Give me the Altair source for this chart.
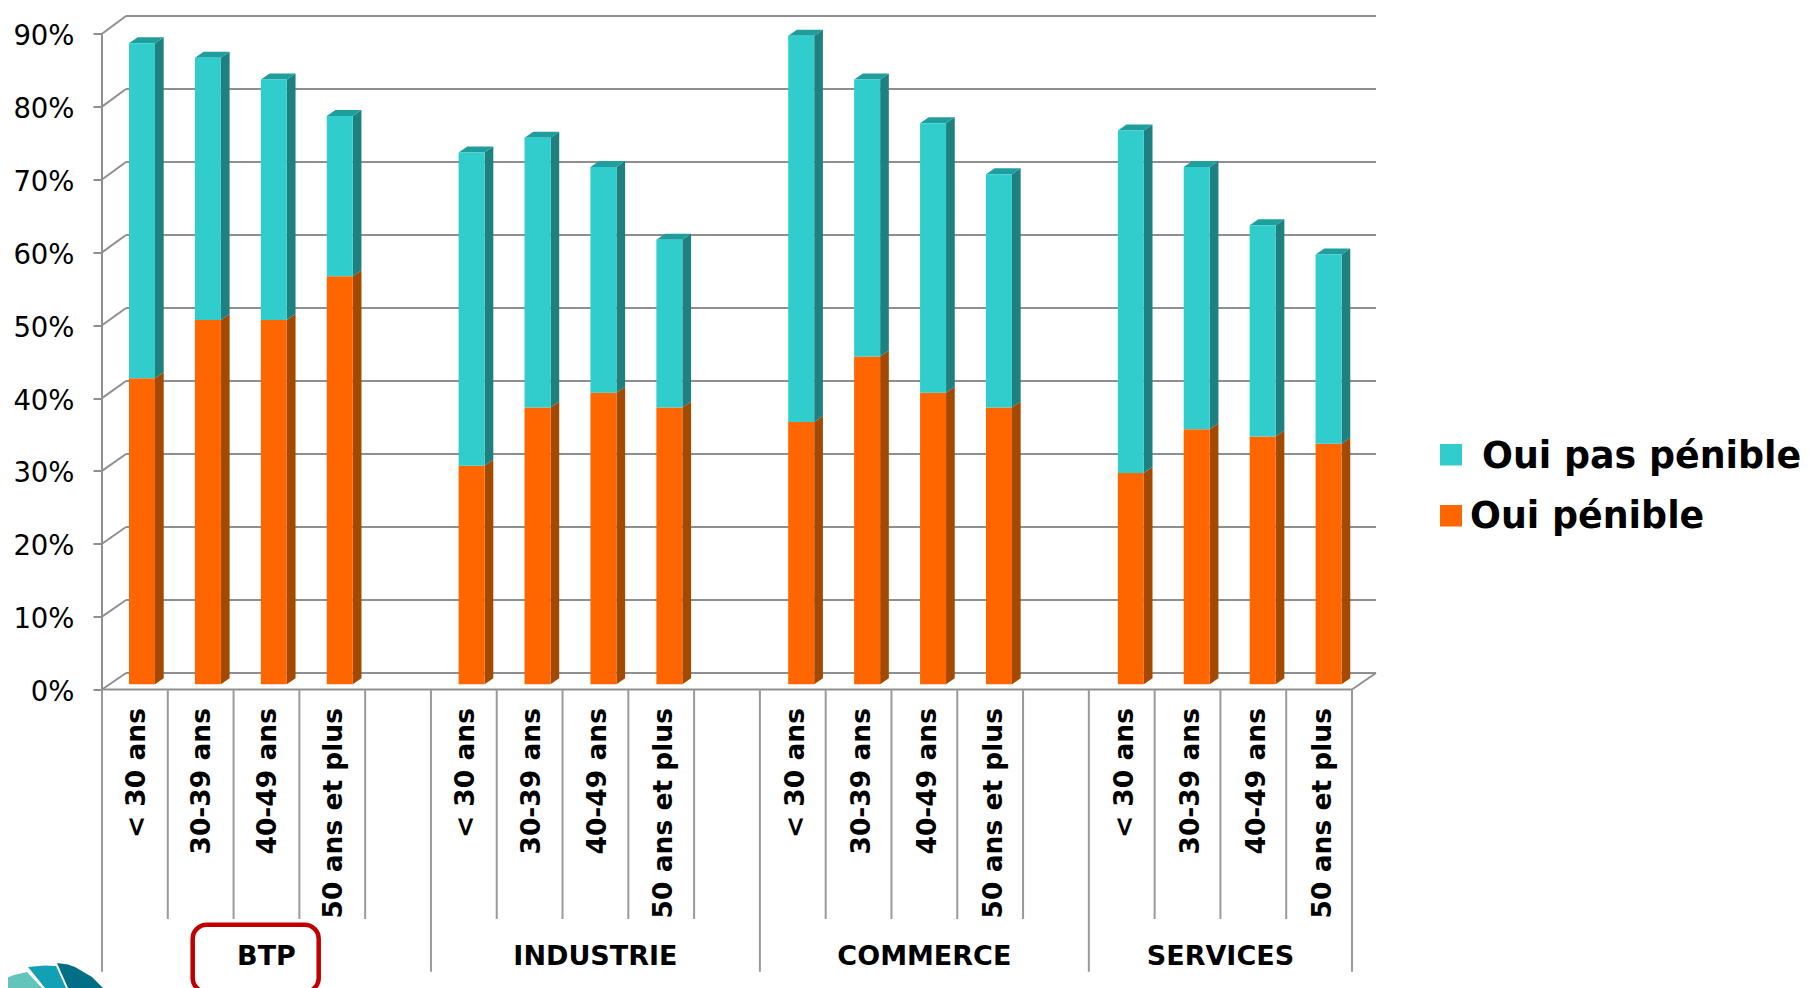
import altair as alt
import pandas as pd

# ---- chart values (percent) ----
groups = ["BTP", "INDUSTRIE", "COMMERCE", "SERVICES"]
group_centres = [2.5, 7.5, 12.5, 17]
ages = ["< 30 ans", "30-39 ans", "40-49 ans", "50 ans et plus"]
penible = [42, 50, 50, 56, 30, 38, 40, 38, 36, 45, 40, 38, 29, 35, 34, 33]
pas_penible = [46, 36, 33, 22, 43, 37, 31, 23, 53, 38, 37, 32, 47, 36, 29, 26]
y_ticks = [0, 10, 20, 30, 40, 50, 60, 70, 80, 90]
series = ["Oui pas pénible", "Oui pénible"]
series_colors = ["#31cdcd", "#ff6600"]

# decorative logo outlines, in page pixels: x, top edge, lower edge
logo_dark = ([57, 68, 75, 92, 103], [963, 964.5, 967, 977, 988], [963, 988, 988, 988, 988])
logo_mid = ([28, 45, 55, 56, 66], [967, 965.5, 966, 966, 988], [967, 988, 988, 988, 988])
logo_light = ([0, 14, 27, 42], [980, 975, 972, 988], [988, 988, 988, 988])

# ---- geometry of the pseudo-3D frame ----
PX_X = 65.79   # pixels per category slot
PX_Y = 7.286   # pixels per percentage point
LEFT, BASE = 102.0, 689.5
SLOTS = 19
W, H = 1274, 674
DX = 24 / PX_X                         # wall depth
BAR_L, BAR_W = 27 / PX_X, 26 / PX_X    # bar front in a slot
BAR_DX, BAR_DY = 8.7 / PX_X, 6 / PX_Y  # bar depth
BAR_LIFT = 5.2 / PX_Y                  # bar base above the axis line
BAR_PITCH = 1.002                      # bars run slightly wider than the separators
GRID = "#8f8f8f"

def px_x(p):
    return (p - LEFT) / PX_X

def px_y(p):
    return (BASE - p) / PX_Y

def back_y(v):
    # back wall is drawn with a slightly larger pitch than the front axis
    return px_y(673 - v * 7.3)

x_scale = alt.Scale(domain=[0, SLOTS + DX], nice=False, zero=False)
y_scale = alt.Scale(domain=[0, H / PX_Y], nice=False, zero=False)
X = alt.X("x:Q", scale=x_scale, axis=None)
Y = alt.Y("y:Q", scale=y_scale, stack=None, axis=alt.Axis(
    values=y_ticks, title=None, domain=False, grid=False, tickColor=GRID, tickWidth=2,
    tickSize=9, labelFontSize=27.5, labelFont="DejaVu Sans", labelColor="#000000",
    labelPadding=19, labelOffset=3, labelExpr="datum.value + '%'"))

# ---- frame ----
frame = []
for v in y_ticks:
    frame.append(dict(x=0, x2=DX, y=v, y2=back_y(v)))
    frame.append(dict(x=DX, x2=SLOTS + DX, y=back_y(v), y2=back_y(v)))
frame.append(dict(x=0, x2=0, y=0, y2=90))
frame.append(dict(x=0, x2=SLOTS, y=0, y2=0))
frame.append(dict(x=SLOTS, x2=SLOTS + DX, y=0, y2=back_y(0)))
frame_layer = alt.Chart(pd.DataFrame(frame)).mark_rule(color=GRID, strokeWidth=2).encode(
    x=X, x2="x2:Q", y=Y, y2="y2:Q")

seps = []
for s in range(SLOTS + 1):
    long_one = s in (0, 5, 10, 15, SLOTS)
    seps.append(dict(x=s, y=0, y2=px_y(971.7 if long_one else 919)))
sep_layer = alt.Chart(pd.DataFrame(seps)).mark_rule(color="#9a9a9a", strokeWidth=2).encode(
    x=X, y=Y, y2="y2:Q")

# ---- bars ----
front, side_o, side_t, top = [], [], [], []
labels = []
i = 0
for g, group in enumerate(groups):
    for a, age in enumerate(ages):
        slot = (g * 5 + a) * BAR_PITCH
        x0 = slot + BAR_L
        x1 = x0 + BAR_W
        o, t = penible[i], penible[i] + pas_penible[i]
        front.append(dict(series=series[1], x=x0, x2=x1, y=BAR_LIFT, y2=o + BAR_LIFT))
        front.append(dict(series=series[0], x=x0, x2=x1, y=o + BAR_LIFT, y2=t + BAR_LIFT))
        for shift in (0, 1):
            side_o.append(dict(bar=i, x=x1 + shift * BAR_DX,
                               y=BAR_LIFT + shift * BAR_DY, y2=o + BAR_LIFT + shift * BAR_DY))
            side_t.append(dict(bar=i, x=x1 + shift * BAR_DX,
                               y=o + BAR_LIFT + shift * BAR_DY, y2=t + BAR_LIFT + shift * BAR_DY))
            top.append(dict(bar=i, y=t + BAR_LIFT + shift * BAR_DY,
                            x=x0 + shift * BAR_DX, x2=x1 + shift * BAR_DX))
        labels.append(dict(x=slot + 0.525, y=px_y(708), text=age))
        i += 1

def side(rows, color):
    return alt.Chart(pd.DataFrame(rows)).mark_area(color=color, orient="vertical").encode(
        x=X, y=Y, y2="y2:Q", detail="bar:N")

top_layer = alt.Chart(pd.DataFrame(top)).mark_area(color="#1f9e9e", orient="horizontal").encode(
    x=X, x2="x2:Q", y=Y, detail="bar:N")

color_enc = alt.Color("series:N", scale=alt.Scale(domain=series, range=series_colors),
                      sort=series, legend=None)

front_layer = alt.Chart(pd.DataFrame(front)).mark_rect().encode(
    x=X, x2="x2:Q", y=Y, y2="y2:Q", color=color_enc)

# ---- legend, placed by hand because its first label sits further right ----
key_rows = [
    dict(series=series[0], x=px_x(1440), x2=px_x(1462), y=px_y(444), y2=px_y(465.5)),
    dict(series=series[1], x=px_x(1440), x2=px_x(1462), y=px_y(505), y2=px_y(526.5)),
]
key_layer = alt.Chart(pd.DataFrame(key_rows)).mark_rect().encode(
    x=X, x2="x2:Q", y=Y, y2="y2:Q", color=color_enc)
key_labels = [
    dict(x=px_x(1482), y=px_y(456.5), text=series[0]),
    dict(x=px_x(1470), y=px_y(517), text=series[1]),
]
key_text = alt.Chart(pd.DataFrame(key_labels)).mark_text(
    align="left", baseline="middle", font="DejaVu Sans", fontWeight="bold",
    fontSize=36.4, color="#000000").encode(x=X, y=Y, text="text:N")

# ---- texts ----
age_text = alt.Chart(pd.DataFrame(labels)).mark_text(
    angle=270, align="right", baseline="middle", font="DejaVu Sans", fontWeight="bold",
    fontSize=26.5, color="#000000").encode(x=X, y=Y, text="text:N")

group_rows = [dict(x=c, y=px_y(957), text=t) for c, t in zip(group_centres, groups)]
group_text = alt.Chart(pd.DataFrame(group_rows)).mark_text(
    align="center", baseline="middle", font="DejaVu Sans", fontWeight="bold",
    fontSize=27, color="#000000").encode(x=X, y=Y, text="text:N")

box = alt.Chart(pd.DataFrame([dict(x=px_x(192.7), x2=px_x(318.7), y=px_y(924.7), y2=px_y(992))])).mark_rect(
    fillOpacity=0, stroke="#c00000", strokeWidth=4.5, cornerRadius=14).encode(x=X, x2="x2:Q", y=Y, y2="y2:Q")

def logo(shape, color):
    df = pd.DataFrame({"x": [px_x(p) for p in shape[0]],
                       "y": [px_y(p) for p in shape[1]],
                       "y2": [px_y(p) for p in shape[2]]})
    return alt.Chart(df).mark_area(color=color, orient="vertical").encode(x=X, y=Y, y2="y2:Q")

chart = alt.layer(
    frame_layer, sep_layer,
    side(side_o, "#a34a00"), side(side_t, "#1f8080"), top_layer, front_layer,
    key_layer, key_text, age_text, group_text, box,
    logo(logo_light, "#63c4bc"), logo(logo_mid, "#12a0b5"), logo(logo_dark, "#006f86"),
).properties(
    width=W, height=H,
    autosize="none",
    background="#ffffff",
    padding={"left": 94, "top": 7.5, "right": 426, "bottom": 298.5},
).configure_view(stroke=None)

chart.save("out.html", embed_options={"renderer": "svg", "actions": False})
